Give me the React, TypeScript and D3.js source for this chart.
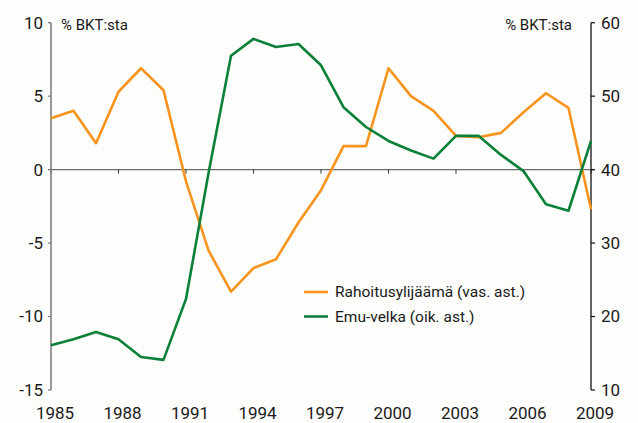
import { useRef, useEffect } from "react";
import * as d3 from "d3";

const years = d3.range(1985, 2010);
const surplus = [3.5, 4.0, 1.8, 5.3, 6.9, 5.4, -0.8, -5.5, -8.3, -6.7, -6.1, -3.6, -1.4, 1.6, 1.6, 6.9, 5.0, 4.0, 2.3, 2.2, 2.5, 3.9, 5.2, 4.2, -2.7];
const emuDebt = [16.1, 16.9, 17.9, 16.9, 14.5, 14.1, 22.4, 39.5, 55.5, 57.8, 56.7, 57.1, 54.2, 48.5, 45.8, 43.9, 42.6, 41.5, 44.6, 44.6, 42.0, 39.8, 35.3, 34.4, 43.9];
const xTicks = [1985, 1988, 1991, 1994, 1997, 2000, 2003, 2006, 2009];
const leftTicks = [10, 5, 0, -5, -10, -15];
const rightTicks = [60, 50, 40, 30, 20, 10];
const legendItems = [
  { label: "Rahoitusylijäämä (vas. ast.)", color: "#f7941d" },
  { label: "Emu-velka (oik. ast.)", color: "#0b8039" },
];

export default function App() {
  const ref = useRef(null);

  useEffect(() => {
    if (!ref.current) return;
    const svg = d3.select(ref.current);
    svg.selectAll("*").remove();

    const W = 638, H = 423;
    const L = 51, R = 591, T = 22.7, B = 390;
    const font = "Roboto, 'Open Sans', sans-serif";

    svg.append("rect").attr("width", W).attr("height", H).attr("fill", "#fdfdfb");

    const x = d3.scaleLinear().domain([1985, 2009]).range([L, R]);
    const yL = d3.scaleLinear().domain([-15, 10]).range([B, T]);
    const yR = d3.scaleLinear().domain([10, 60]).range([B, T]);

    // zero line
    svg.append("line")
      .attr("x1", L).attr("x2", R + 4)
      .attr("y1", yL(0)).attr("y2", yL(0))
      .attr("stroke", "#6d6d6d").attr("stroke-width", 1.2);

    // x ticks on zero line
    svg.selectAll(".xt").data(xTicks).join("line")
      .attr("x1", (d) => x(d)).attr("x2", (d) => x(d))
      .attr("y1", yL(0)).attr("y2", yL(0) + 4)
      .attr("stroke", "#333").attr("stroke-width", 1);

    svg.selectAll(".xl").data(xTicks).join("text")
      .attr("x", (d) => x(d) + 4).attr("y", 419)
      .attr("text-anchor", "middle")
      .attr("font-family", font).attr("font-size", 17).attr("fill", "#1a1a1a")
      .text((d) => d);

    // left axis
    svg.append("line").attr("x1", L).attr("x2", L).attr("y1", T).attr("y2", B)
      .attr("stroke", "#777").attr("stroke-width", 1.5);
    svg.selectAll(".lt").data(leftTicks).join("line")
      .attr("x1", L - 3).attr("x2", L).attr("y1", (d) => yL(d)).attr("y2", (d) => yL(d))
      .attr("stroke", "#777").attr("stroke-width", 1.2);
    svg.selectAll(".ll").data(leftTicks).join("text")
      .attr("x", L - 8).attr("y", (d) => yL(d)).attr("dy", "0.35em")
      .attr("text-anchor", "end")
      .attr("font-family", font).attr("font-size", 17).attr("fill", "#1a1a1a")
      .text((d) => d);

    // right axis
    svg.append("line").attr("x1", R).attr("x2", R).attr("y1", T).attr("y2", B)
      .attr("stroke", "#111").attr("stroke-width", 1.3);
    svg.selectAll(".rt").data(rightTicks).join("line")
      .attr("x1", R).attr("x2", R + 4).attr("y1", (d) => yR(d)).attr("y2", (d) => yR(d))
      .attr("stroke", "#111").attr("stroke-width", 1.2);
    svg.selectAll(".rl").data(rightTicks).join("text")
      .attr("x", R + 10).attr("y", (d) => yR(d)).attr("dy", "0.35em")
      .attr("font-family", font).attr("font-size", 17).attr("fill", "#1a1a1a")
      .text((d) => d);

    // unit labels
    svg.append("text").attr("x", 61).attr("y", 30)
      .attr("font-family", font).attr("font-size", 15).attr("fill", "#1a1a1a")
      .text("% BKT:sta");
    svg.append("text").attr("x", 572).attr("y", 30).attr("text-anchor", "end")
      .attr("font-family", font).attr("font-size", 15).attr("fill", "#1a1a1a")
      .text("% BKT:sta");

    // lines
    const lineL = d3.line<number>().x((_, i) => x(years[i])).y((d) => yL(d));
    const lineR = d3.line<number>().x((_, i) => x(years[i])).y((d) => yR(d));

    svg.append("path").attr("d", lineL(surplus))
      .attr("fill", "none").attr("stroke", legendItems[0].color)
      .attr("stroke-width", 2.6).attr("stroke-linejoin", "round");
    svg.append("path").attr("d", lineR(emuDebt))
      .attr("fill", "none").attr("stroke", legendItems[1].color)
      .attr("stroke-width", 2.6).attr("stroke-linejoin", "round");

    // legend
    const lg = svg.append("g").attr("transform", "translate(304,292)");
    legendItems.forEach((it, i) => {
      const row = lg.append("g").attr("transform", `translate(0,${i * 24.5})`);
      row.append("line").attr("x1", 0).attr("x2", 24).attr("y1", 0).attr("y2", 0)
        .attr("stroke", it.color).attr("stroke-width", 2.6);
      row.append("text").attr("x", 31).attr("y", 0).attr("dy", "0.35em")
        .attr("font-family", font).attr("font-size", 15.5).attr("fill", "#1a1a1a")
        .text(it.label);
    });
  }, []);

  return (
    <svg
      ref={ref}
      width={638}
      height={423}
      style={{ position: "absolute", left: 0, top: 0, display: "block" }}
    />
  );
}
